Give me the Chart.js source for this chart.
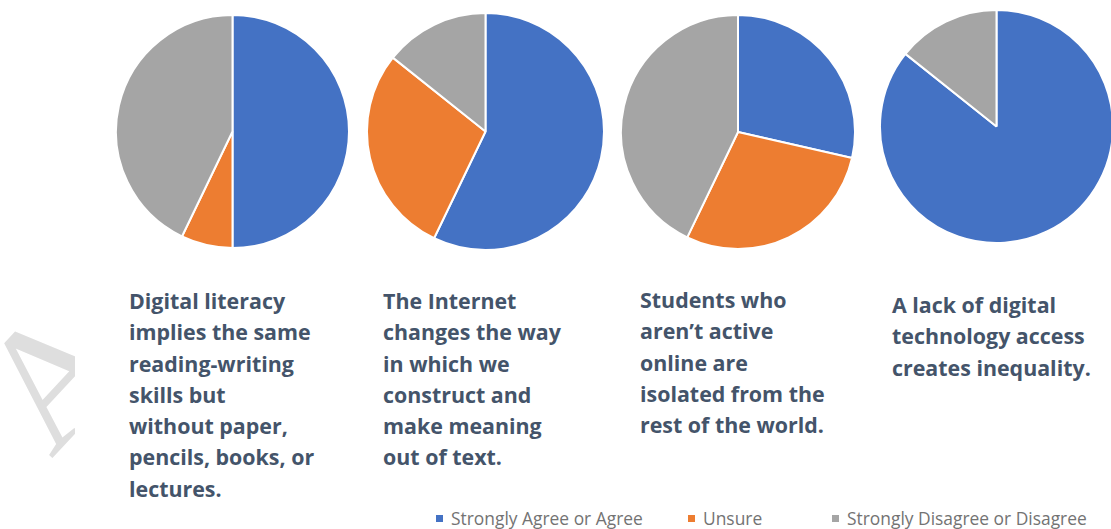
<!DOCTYPE html>
<html>
<head>
<meta charset="utf-8">
<script src="https://cdn.jsdelivr.net/npm/chart.js@4"></script>
<style>
  html, body { margin: 0; padding: 0; background: #fff; }
  body { width: 1111px; height: 529px; position: relative; overflow: hidden; font-family: "Open Sans", sans-serif; }
  .pie { position: absolute; }
  .caption { position: absolute; font-weight: bold; font-size: 21.4px; line-height: 31.3px; color: #44546A; white-space: nowrap; }
  .legend { position: absolute; top: 507px; font-size: 17.4px; line-height: 23px; color: #737373; white-space: nowrap; }
  .box { position: absolute; top: 515px; width: 7px; height: 7px; }
  .mark { position: absolute; left: 0; top: 240px; width: 75px; height: 240px; overflow: hidden; }
  .mark div { position: absolute; left: -54px; top: 121px; font-family: "Liberation Serif", serif; font-size: 172px; color: #dedede; transform: rotate(-47deg); transform-origin: 0 0; white-space: nowrap; line-height: 1; }
</style>
</head>
<body>
<div class="mark"><div>AC</div></div>

<script>
// responses out of 14 participants
const categories = ['Strongly Agree or Agree', 'Unsure', 'Strongly Disagree or Disagree'];
const colors = ['#4472C4', '#ED7D31', '#A5A5A5'];

const literacyValues = [7, 1, 6];
const internetValues = [8, 4, 2];
const isolatedValues = [4, 4, 6];
const inequalityValues = [12, 0, 2];

const captions = [
  ['Digital literacy', 'implies the same', 'reading-writing', 'skills but', 'without paper,', 'pencils, books, or', 'lectures.'],
  ['The Internet', 'changes the way', 'in which we', 'construct and', 'make meaning', 'out of text.'],
  ['Students who', 'aren\u2019t active', 'online are', 'isolated from the', 'rest of the world.'],
  ['A lack of digital', 'technology access', 'creates inequality.']
];

// placement of each pie and caption on the page
const pies = [
  { values: literacyValues, left: 115, top: 14, size: 235, textX: 129, textY: 285 },
  { values: internetValues, left: 366, top: 12, size: 239, textX: 383, textY: 285 },
  { values: isolatedValues, left: 620, top: 14, size: 236, textX: 640, textY: 284 },
  { values: inequalityValues, left: 879, top: 9, size: 235, textX: 892, textY: 289 }
];

pies.forEach((p, i) => {
  const canvas = document.createElement('canvas');
  canvas.className = 'pie';
  canvas.width = p.size;
  canvas.height = p.size;
  canvas.style.left = p.left + 'px';
  canvas.style.top = p.top + 'px';
  document.body.appendChild(canvas);

  new Chart(canvas.getContext('2d'), {
    type: 'pie',
    data: {
      labels: categories,
      datasets: [{
        data: p.values,
        backgroundColor: colors,
        borderColor: '#ffffff',
        borderWidth: 2
      }]
    },
    options: {
      responsive: false,
      animation: false,
      layout: { padding: 0 },
      plugins: { legend: { display: false }, tooltip: { enabled: false } }
    }
  });

  const cap = document.createElement('div');
  cap.className = 'caption';
  cap.style.left = p.textX + 'px';
  cap.style.top = p.textY + 'px';
  cap.innerHTML = captions[i].join('<br>');
  document.body.appendChild(cap);
});

// legend along the bottom
const legendBoxX = [436, 688, 832];
categories.forEach((c, i) => {
  const box = document.createElement('div');
  box.className = 'box';
  box.style.left = legendBoxX[i] + 'px';
  box.style.background = colors[i];
  document.body.appendChild(box);

  const item = document.createElement('div');
  item.className = 'legend';
  item.style.left = (legendBoxX[i] + 15) + 'px';
  item.textContent = c;
  document.body.appendChild(item);
});
</script>
</body>
</html>
